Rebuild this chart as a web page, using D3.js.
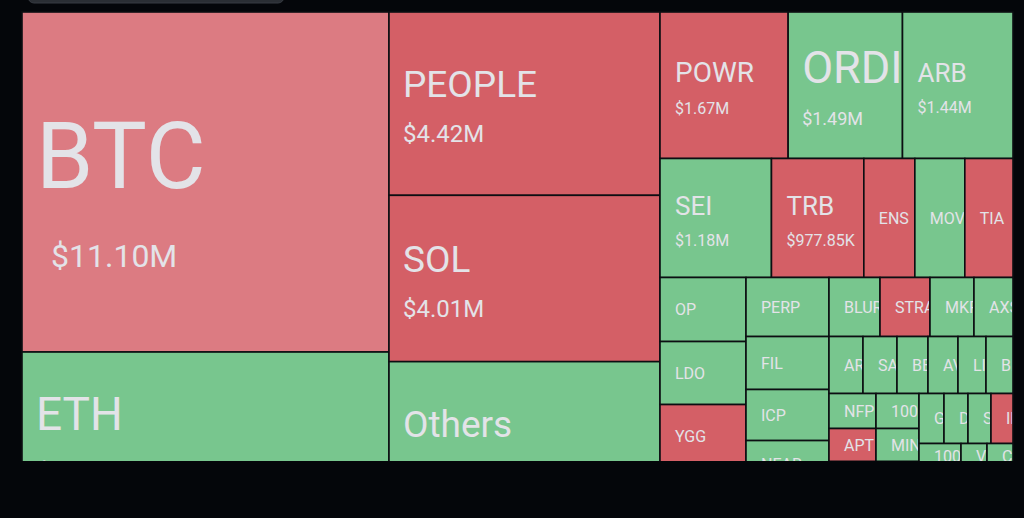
<!DOCTYPE html>
<html><head><meta charset="utf-8">
<script src="https://cdn.jsdelivr.net/npm/d3@7"></script>
<style>html,body{margin:0;padding:0;background:#04060a;} svg{display:block;}</style>
</head><body>
<svg id="chart" width="1024" height="518"></svg>
<script>
// ---------- data ----------
// leaf cells (values in $M); empty symbols are cells lying below the visible crop
const symbols = ["BTC","ETH","PEOPLE","SOL","Others","POWR","ORDI","ARB","SEI","TRB","ENS","MOVR","TIA",
  "OP","LDO","YGG","","PERP","FIL","ICP","NEAR","",
  "BLUR","STRAX","MKR","AXS","ARK","SAND","BEAMX","AVAX","LINK","BNB",
  "NFP","APT","","1000SATS","MINA","","GALA","DOGE","SUI","INJ","1000PEPE","VET","CFX",""];
const volumes = [11.10,5.615,4.42,4.01,3.914,1.67,1.49,1.44,1.18,0.97785,0.540,0.529,0.510,
  0.490,0.482,0.482,0.432,0.436,0.391,0.377,0.354,0.262,
  0.268,0.2625,0.231,0.205,0.1724,0.1724,0.1572,0.1521,0.142,0.1369,
  0.1463,0.138,0.2613,0.1339,0.1262,0.2391,0.1112,0.1067,0.1023,0.0979,0.0971,0.0601,0.0601,0.4557];
const moves = ["down","up","down","down","up","down","up","up","up","down","down","up","down",
  "up","up","down","up","up","up","up","up","up",
  "up","down","up","up","up","up","up","up","up","up",
  "up","down","up","up","up","up","up","up","up","down","up","up","up","up"];
const parentGroup = ["col1","col1","col2","col2","col2","rowA","rowA","rowA","rowB","rowB","rowB","rowB","rowB",
  "c1","c1","c1","c1","c2","c2","c2","c2","c2",
  "r1","r1","r1","r1","r2","r2","r2","r2","r2","r2",
  "cA","cA","cA","cB","cB","cB","q1","q1","q1","q1","q2","q2","q2","cC"];
// nesting of the treemap (split direction of each group)
const groupIds     = ["root","col1","col2","col3","rowA","rowB","rowC","c1","c2","c3","r1","r2","r3","cA","cB","cC","q1","q2"];
const groupParents = ["","root","root","root","col3","col3","col3","rowC","rowC","rowC","c3","c3","c3","r3","r3","r3","cC","cC"];
const groupSplit   = ["across","down","down","down","across","across","across","down","down","down","across","across","across","down","down","down","across","across"];
const highlighted = "BTC";

// ---------- styles ----------
const colors = {up:"#78c68e", down:"#d45f66", highlight:"#dc7b82"};
const labelSize = d3.scaleThreshold().domain([0.9,1.6,3,5,10]).range([16,26,28,37,46,92]);
const valueSize = d3.scaleThreshold().domain([0.9,3,5,10]).range([0,16,24,28,32]);
const sizeOverride = {ORDI:{label:45,value:18}};

const svg = d3.select("#chart");
svg.append("rect").attr("width",1024).attr("height",518).attr("fill","#04060a");
svg.append("rect").attr("x",28).attr("y",-10).attr("width",256).attr("height",13).attr("rx",6)
  .attr("fill","#2a2e34").attr("stroke","#363b42");

const frame = {x:22, y:12, w:991, h:512, visibleBottom:461};
const nodes = [
  ...groupIds.map((id,i)=>({id, parent: groupParents[i]||null, split: groupSplit[i]})),
  ...symbols.map((s,i)=>({id:"leaf"+i, parent: parentGroup[i], symbol:s, value: volumes[i], move: moves[i]}))
];
const root = d3.stratify().id(d=>d.id).parentId(d=>d.parent)(nodes).sum(d=>d.value||0);
const tile = (node,x0,y0,x1,y1)=> (node.data.split==="across"? d3.treemapDice : d3.treemapSlice)(node,x0,y0,x1,y1);
d3.treemap().tile(tile).size([frame.w, frame.h])(root);

const x = d3.scaleLinear().domain([0,frame.w]).range([frame.x, frame.x+frame.w]);
const y = d3.scaleLinear().domain([0,frame.h]).range([frame.y, frame.y+frame.h]);

const defs = svg.append("defs");
defs.append("clipPath").attr("id","vis").append("rect")
  .attr("x",frame.x-2).attr("y",frame.y-2).attr("width",frame.w+4).attr("height",frame.visibleBottom-frame.y+2);

const fmt = v => v>=1 ? "$"+v.toFixed(2)+"M" : "$"+(v*1000).toFixed(2)+"K";
const g = svg.append("g").attr("clip-path","url(#vis)");
const leaves = root.leaves();

leaves.forEach((d,i)=>{
  const x0=x(d.x0), x1=x(d.x1), y0=y(d.y0), y1=y(d.y1);
  const sym = d.data.symbol;
  defs.append("clipPath").attr("id","c"+i).append("rect")
    .attr("x",x0+1).attr("y",y0+1).attr("width",Math.max(0,x1-x0-2)).attr("height",Math.max(0,y1-y0-2));
  const fill = sym===highlighted ? colors.highlight : colors[d.data.move];
  g.append("rect").attr("x",x0).attr("y",y0).attr("width",x1-x0).attr("height",y1-y0)
    .attr("fill",fill).attr("stroke","#0c0e12").attr("stroke-width",1.6);
  if(!sym) return;
  const ov = sizeOverride[sym]||{};
  const lfs = ov.label||labelSize(d.value);
  const vfs = ov.value!==undefined ? ov.value : valueSize(d.value);
  const pad = lfs>30 ? 14 : 15;
  const cy = (y0+y1)/2;
  const t = g.append("g").attr("clip-path","url(#c"+i+")");
  const hl = sym===highlighted;
  if(vfs>0){
    const gap = 0.5*lfs + 1.1*vfs;
    const lb = cy + 3 - (gap - 0.711*lfs)/2;
    t.append("text").attr("x",x0+pad).attr("y",lb+(hl?11:0))
      .attr("font-family","Roboto, sans-serif").attr("font-size",lfs).attr("fill","#e3e3e8").text(sym);
    t.append("text").attr("x",x0+pad+(hl?15:0)).attr("y",lb+gap+(hl?9:0))
      .attr("font-family","Roboto, sans-serif").attr("font-size",vfs).attr("fill","#e3e3e8").text(fmt(d.value));
  } else {
    t.append("text").attr("x",x0+pad).attr("y",cy+0.711*lfs/2)
      .attr("font-family","Roboto, sans-serif").attr("font-size",lfs).attr("fill","#e3e3e8").text(sym);
  }
});
</script>
</body></html>
